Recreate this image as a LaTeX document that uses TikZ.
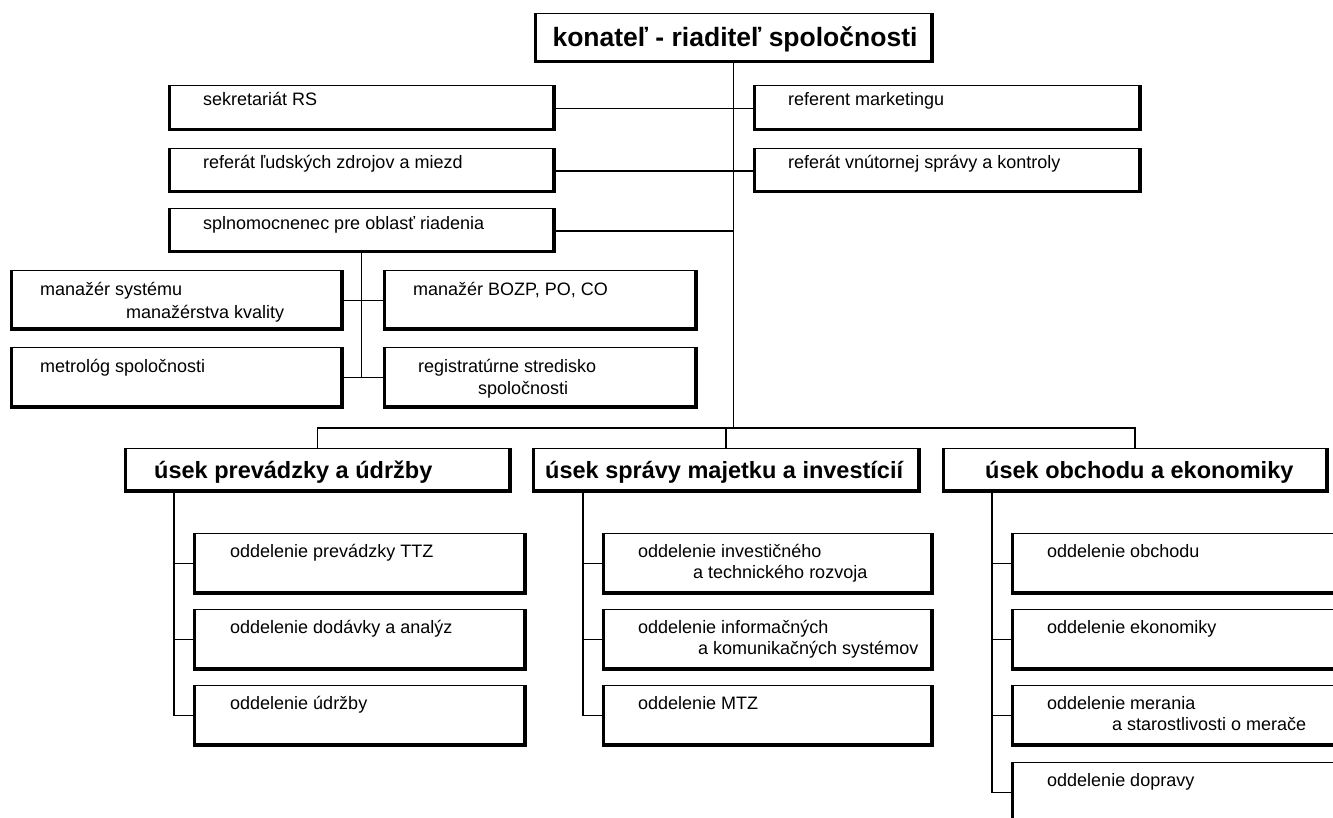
\documentclass[tikz,border=0pt]{standalone}
\usepackage{fontspec}
\setmainfont{Liberation Sans}
\begin{document}
\begin{tikzpicture}[x=1pt,y=-1pt,
  orgbox/.style={draw, line width=1pt, rectangle, inner sep=0pt, outer sep=0pt, anchor=north west},
  thickedge/.style={line width=2.6pt, line join=miter},
  conn/.style={line width=1.1pt},
  lbl/.style={anchor=base west, inner sep=0pt, font=\fontsize{18}{20}\selectfont},
  ttl/.style={anchor=base, inner sep=0pt, font=\bfseries\fontsize{26.5}{30}\selectfont},
  head/.style={anchor=base west, inner sep=0pt, font=\bfseries\fontsize{23.5}{27}\selectfont}]
\path[use as bounding box, fill=white] (0,0) rectangle (1333,818);
\clip (0,0) rectangle (1333,818);

% top
\node[orgbox, minimum width=399pt, minimum height=49pt] (top) at (534,14) {};
% staff rows
\node[orgbox, minimum width=387pt, minimum height=45pt] (sek) at (168,86) {};
\node[orgbox, minimum width=388pt, minimum height=45pt] (rmk) at (753,86) {};
\node[orgbox, minimum width=387pt, minimum height=44pt] (rlz) at (168,149) {};
\node[orgbox, minimum width=388pt, minimum height=44pt] (rvs) at (753,149) {};
\node[orgbox, minimum width=387pt, minimum height=44pt] (spl) at (168,209) {};
% under splnomocnenec
\node[orgbox, minimum width=333pt, minimum height=59pt] (msk) at (10,271) {};
\node[orgbox, minimum width=314pt, minimum height=59pt] (boz) at (383,271) {};
\node[orgbox, minimum width=333pt, minimum height=61pt] (met) at (10,347) {};
\node[orgbox, minimum width=314pt, minimum height=61pt] (reg) at (383,347) {};
% divisions
\node[orgbox, minimum width=387pt, minimum height=44pt] (u1) at (124,448) {};
\node[orgbox, minimum width=388pt, minimum height=44pt] (u2) at (532,448) {};
\node[orgbox, minimum width=386pt, minimum height=44pt] (u3) at (942,448) {};
% departments
\node[orgbox, minimum width=333pt, minimum height=61pt] (c1a) at (193,533) {};
\node[orgbox, minimum width=333pt, minimum height=61pt] (c1b) at (193,609) {};
\node[orgbox, minimum width=333pt, minimum height=61pt] (c1c) at (193,685) {};
\node[orgbox, minimum width=331pt, minimum height=61pt] (c2a) at (602,533) {};
\node[orgbox, minimum width=331pt, minimum height=61pt] (c2b) at (602,609) {};
\node[orgbox, minimum width=331pt, minimum height=61pt] (c2c) at (602,685) {};
\node[orgbox, minimum width=345pt, minimum height=61pt] (c3a) at (1011,533) {};
\node[orgbox, minimum width=345pt, minimum height=61pt] (c3b) at (1011,609) {};
\node[orgbox, minimum width=345pt, minimum height=61pt] (c3c) at (1011,685) {};
\node[orgbox, minimum width=345pt, minimum height=61pt] (c3d) at (1011,762) {};

\foreach \n in {top,sek,rmk,rlz,rvs,spl,msk,boz,met,reg,u1,u2,u3,c1a,c1b,c1c,c2a,c2b,c2c,c3a,c3b,c3c,c3d}
  \draw[thickedge] ([xshift=1.3pt,yshift=-0.5pt]\n.north west) -- ([xshift=1.3pt,yshift=1.3pt]\n.south west)
     -- ([xshift=-1.3pt,yshift=1.3pt]\n.south east) -- ([xshift=-1.3pt,yshift=-0.5pt]\n.north east);

% connectors
\coordinate (bar) at (733,428);
\draw[conn] (top.south) -- (top.south |- bar);
\draw[conn] (sek.east) -- (rmk.west);
\draw[conn] (rlz.east) -- (rvs.west);
\draw[conn] (spl.east) -- (spl.east -| top.south);
\draw[conn] (spl.south) -- (spl.south |- met.east);
\draw[conn] (msk.east) -- (boz.west);
\draw[conn] (met.east) -- (reg.west);
\draw[conn] (u1.north) |- (bar);
\draw[conn] (u3.north) |- (bar);
\draw[conn] (u2.north) -- (u2.north |- bar);
\coordinate (v1) at (174,492);
\coordinate (v2) at (583,492);
\coordinate (v3) at (992,492);
\draw[conn] (v1) |- (c1c.west);
\draw[conn] (v1 |- c1a.west) -- (c1a.west);
\draw[conn] (v1 |- c1b.west) -- (c1b.west);
\draw[conn] (v2) |- (c2c.west);
\draw[conn] (v2 |- c2a.west) -- (c2a.west);
\draw[conn] (v2 |- c2b.west) -- (c2b.west);
\draw[conn] (v3) |- (c3d.west);
\draw[conn] (v3 |- c3a.west) -- (c3a.west);
\draw[conn] (v3 |- c3b.west) -- (c3b.west);
\draw[conn] (v3 |- c3c.west) -- (c3c.west);

% texts
\node[ttl] (t-top) at (735,47) {konateľ - riaditeľ spoločnosti};
\node[lbl] (t-sek) at (203,106) {sekretariát RS};
\node[lbl] (t-rmk) at (788,106) {referent marketingu};
\node[lbl] (t-rlz) at (203,169) {referát ľudských zdrojov a miezd};
\node[lbl] (t-rvs) at (788,169) {referát vnútornej správy a kontroly};
\node[lbl] (t-spl) at (203,230) {splnomocnenec pre oblasť riadenia};
\node[lbl] (t-msk1) at (40,295) {manažér systému};
\node[lbl] (t-msk2) at (126,319) {manažérstva kvality};
\node[lbl] (t-boz) at (413,295) {manažér BOZP, PO, CO};
\node[lbl] (t-met) at (40,372) {metrológ spoločnosti};
\node[lbl] (t-reg1) at (418,372) {registratúrne stredisko};
\node[lbl] (t-reg2) at (478,394) {spoločnosti};
\node[head] (t-u1) at (154,478) {úsek prevádzky a údržby};
\node[head] (t-u2) at (545,478) {úsek správy majetku a investícií};
\node[head] (t-u3) at (985,478) {úsek obchodu a ekonomiky};
\node[lbl] (t-c1a) at (230,557) {oddelenie prevádzky TTZ};
\node[lbl] (t-c1b) at (230,633) {oddelenie dodávky a analýz};
\node[lbl] (t-c1c) at (230,709) {oddelenie údržby};
\node[lbl] (t-c2a1) at (638,557) {oddelenie investičného};
\node[lbl] (t-c2a2) at (693,578) {a technického rozvoja};
\node[lbl] (t-c2b1) at (638,633) {oddelenie informačných};
\node[lbl] (t-c2b2) at (698,654) {a komunikačných systémov};
\node[lbl] (t-c2c) at (638,709) {oddelenie MTZ};
\node[lbl] (t-c3a) at (1047,557) {oddelenie obchodu};
\node[lbl] (t-c3b) at (1047,633) {oddelenie ekonomiky};
\node[lbl] (t-c3c1) at (1047,709) {oddelenie merania};
\node[lbl] (t-c3c2) at (1112,730) {a starostlivosti o merače};
\node[lbl] (t-c3d) at (1047,786) {oddelenie dopravy};
\end{tikzpicture}
\end{document}
